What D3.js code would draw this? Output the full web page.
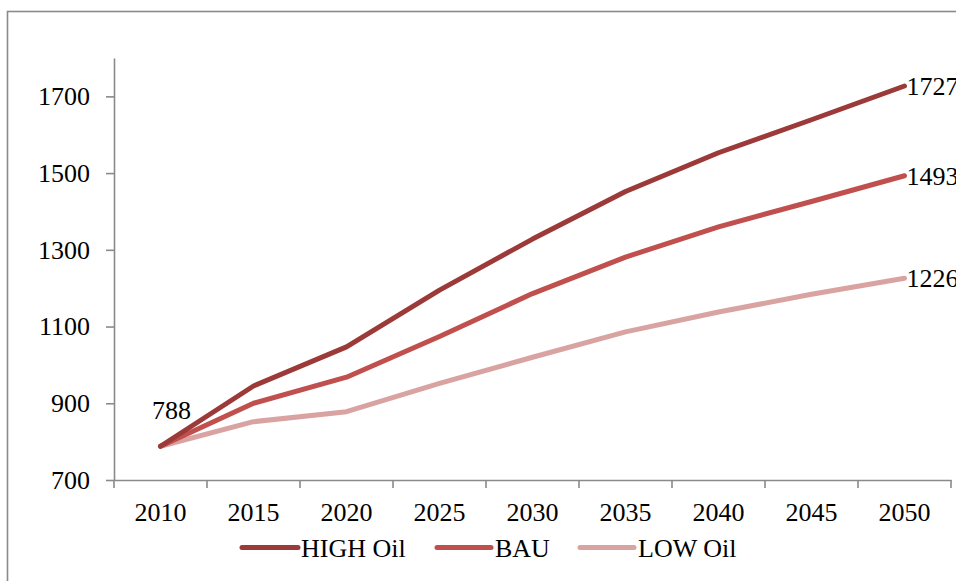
<!DOCTYPE html>
<html>
<head>
<meta charset="utf-8">
<script src="https://cdn.jsdelivr.net/npm/d3@7"></script>
<style>
  html, body { margin: 0; padding: 0; background: #fff; }
  svg { display: block; }
  svg text { font-family: "Liberation Serif", "Times New Roman", Times, serif; fill: #000; }
</style>
</head>
<body>
<svg id="chart" width="956" height="581"></svg>
<script>
// Projection years and scenario series
const years = ["2010", "2015", "2020", "2025", "2030", "2035", "2040", "2045", "2050"];
const highOil = [788, 945, 1047, 1195, 1328, 1452, 1553, 1639, 1727];
const bau     = [788, 900, 968, 1074, 1186, 1281, 1360, 1426, 1493];
const lowOil  = [788, 852, 878, 952, 1020, 1086, 1138, 1184, 1226];
const yTicks  = [700, 900, 1100, 1300, 1500, 1700];
const seriesNames = ["HIGH Oil", "BAU", "LOW Oil"];
const seriesColors = ["#9b3a38", "#c0504d", "#d9a3a2"];

const series = [highOil, bau, lowOil].map((values, i) => ({
  name: seriesNames[i],
  color: seriesColors[i],
  values: values.map((v, j) => ({ year: years[j], value: v }))
}));

const svg = d3.select("#chart");
const frameColor = "#8a8a8a";
const serif = '"Liberation Serif", "Times New Roman", Times, serif';

// Outer frame (right and bottom edges run off the canvas)
svg.append("rect")
  .attr("x", 7.5).attr("y", 11.5)
  .attr("width", 1000).attr("height", 700)
  .attr("fill", "none")
  .attr("stroke", frameColor)
  .attr("stroke-width", 1.6);

const plotLeft = 114, plotRight = 951, plotTop = 58, plotBottom = 480;

const x = d3.scaleBand().domain(years).range([plotLeft, plotRight]).padding(0);
const y = d3.scaleLinear().domain([700, 1800]).range([plotBottom, plotTop]);
const cx = d => x(d) + x.bandwidth() / 2;

// Y axis
const yAxis = svg.append("g")
  .attr("transform", `translate(${plotLeft},0)`)
  .call(d3.axisLeft(y).tickValues(yTicks).tickFormat(d3.format("d"))
    .tickSize(8).tickSizeOuter(0).tickPadding(16));
yAxis.attr("font-family", null).attr("font-size", null);
yAxis.select(".domain").attr("stroke", frameColor).attr("stroke-width", 1.6);
yAxis.selectAll(".tick line").attr("stroke", frameColor).attr("stroke-width", 1.6);
yAxis.selectAll(".tick text")
  .style("font-family", serif)
  .style("font-size", "26px")
  .attr("fill", "#000");

// X axis: labels centred in each category, tick marks on category boundaries
const xAxis = svg.append("g")
  .attr("transform", `translate(0,${plotBottom})`)
  .call(d3.axisBottom(x).tickSize(0).tickSizeOuter(0).tickPadding(41));
xAxis.attr("font-family", null).attr("font-size", null);
xAxis.select(".domain").attr("stroke", frameColor).attr("stroke-width", 1.6);
xAxis.selectAll(".tick text")
  .style("font-family", serif)
  .style("font-size", "26px")
  .attr("fill", "#000")
  .attr("dy", 0);

const boundaries = years.map(d => x(d)).concat([x(years[years.length - 1]) + x.bandwidth()]);
svg.append("g").selectAll("line")
  .data(boundaries)
  .join("line")
  .attr("x1", d => d).attr("x2", d => d)
  .attr("y1", plotBottom).attr("y2", plotBottom + 8)
  .attr("stroke", frameColor)
  .attr("stroke-width", 1.6);

// Scenario lines (drawn low to high so the darkest sits on top)
const line = d3.line()
  .x(d => cx(d.year))
  .y(d => y(d.value));

svg.append("g").selectAll("path")
  .data(series.slice().reverse())
  .join("path")
  .attr("d", d => line(d.values))
  .attr("fill", "none")
  .attr("stroke", d => d.color)
  .attr("stroke-width", 5)
  .attr("stroke-linejoin", "round")
  .attr("stroke-linecap", "round");

// Value labels: start value and the 2050 end values
svg.append("text")
  .attr("x", cx(years[0]) + 11)
  .attr("y", y(highOil[0]) - 27)
  .attr("text-anchor", "middle")
  .style("font-family", serif)
  .style("font-size", "26px")
  .text(highOil[0]);

svg.append("g").selectAll("text")
  .data(series)
  .join("text")
  .attr("x", cx(years[years.length - 1]) + 2)
  .attr("y", d => y(d.values[d.values.length - 1].value))
  .attr("dy", "0.35em")
  .style("font-family", serif)
  .style("font-size", "26px")
  .text(d => d.values[d.values.length - 1].value);

// Legend
const legendItems = [
  { x0: 242, x1: 298, tx: 301 },
  { x0: 437, x1: 491, tx: 495 },
  { x0: 580, x1: 634, tx: 638 }
];
const legend = svg.append("g");
series.forEach((s, i) => {
  const it = legendItems[i];
  legend.append("line")
    .attr("x1", it.x0).attr("x2", it.x1)
    .attr("y1", 547.5).attr("y2", 547.5)
    .attr("stroke", s.color)
    .attr("stroke-width", 5)
    .attr("stroke-linecap", "round");
  legend.append("text")
    .attr("x", it.tx)
    .attr("y", 557)
    .style("font-family", serif)
    .style("font-size", "26px")
    .text(s.name);
});
</script>
</body>
</html>
